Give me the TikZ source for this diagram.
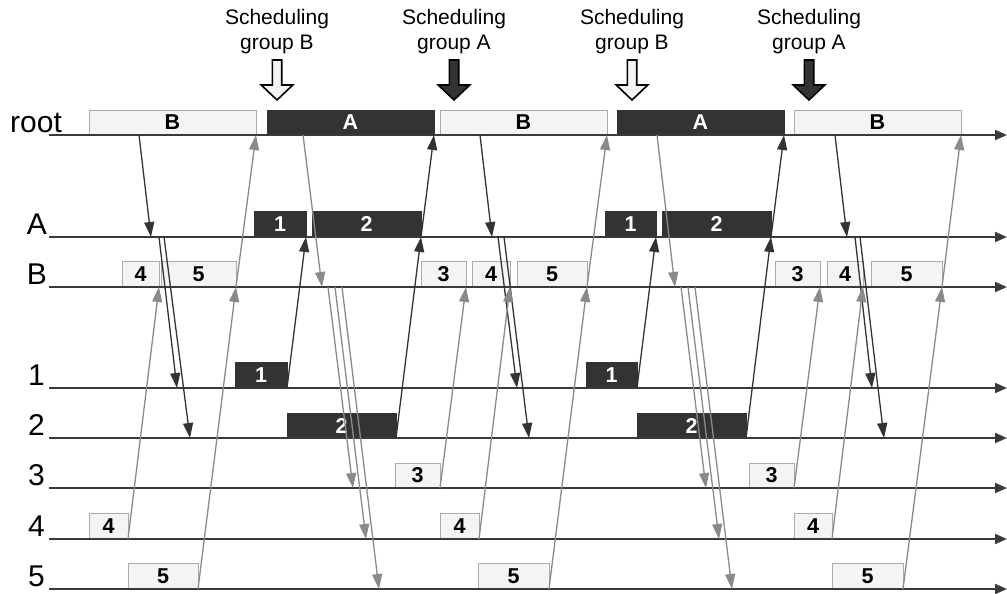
\documentclass[tikz,border=0pt]{standalone}
\usepackage{fontspec}
\setmainfont{Liberation Sans}
\usetikzlibrary{arrows.meta}
\definecolor{dk}{HTML}{333333}
\definecolor{lt}{HTML}{F4F4F4}
\definecolor{ltb}{HTML}{ABABAB}
\definecolor{gr}{HTML}{8A8A8A}
\definecolor{ln}{HTML}{3A3A3A}
\newcommand\mybox[7]{%
  \node[#1, minimum width={#4-#3}, minimum height={#6-#5}] (#2) at ({(#3+#4)/2},{(#5+#6)/2}) {#7};}
\newcommand\schedarrow[2]{%
  \draw[line width=1.6pt, fill=#2, line join=miter, draw=black]
    ({#1-4.7},60) -- ({#1+4.7},60) -- ({#1+4.7},85) -- ({#1+15.8},85) -- (#1,100)
    -- ({#1-15.8},85) -- ({#1-4.7},85) -- cycle;}
\begin{document}
\begin{tikzpicture}[x=1pt,y=-1pt,
  lbox/.style={draw=ltb, fill=lt, line width=1pt, inner sep=0pt, outer sep=0pt,
    text=black, font=\fontsize{21.5}{21.5}\selectfont\bfseries},
  dbox/.style={draw=dk, fill=dk, line width=1pt, inner sep=0pt, outer sep=0pt,
    text=white, font=\fontsize{21.5}{21.5}\selectfont\bfseries},
  tline/.style={draw=ln, line width=2pt, -{Triangle[length=12pt,width=10pt]}},
  lbl/.style={font=\fontsize{30}{30}\selectfont, inner sep=0pt, anchor=base east},
  sched/.style={font=\fontsize{21}{25}\selectfont, align=center, anchor=north, inner sep=0pt},
  gconn/.style={draw=gr, line width=1.3pt, -{Triangle[length=15pt,width=10pt]}},
  dconn/.style={draw=dk, line width=1.3pt, -{Triangle[length=15pt,width=10pt]}}
]
\useasboundingbox (0,0) rectangle (1007,594);

% scheduling annotations
\node[sched] (s1) at (277,8.7) {Scheduling\\group B};
\node[sched] (s2) at (454,8.7) {Scheduling\\group A};
\node[sched] (s3) at (632,8.7) {Scheduling\\group B};
\node[sched] (s4) at (809,8.7) {Scheduling\\group A};
\schedarrow{277}{lt}
\schedarrow{454}{dk}
\schedarrow{632}{lt}
\schedarrow{809}{dk}

% boxes: root
\mybox{lbox}{rB1}{89}{256}{110}{135}{B}
\mybox{dbox}{rA1}{267}{434}{110}{135}{A}
\mybox{lbox}{rB2}{440}{607}{110}{135}{B}
\mybox{dbox}{rA2}{617}{784}{110}{135}{A}
\mybox{lbox}{rB3}{794}{961}{110}{135}{B}
% A row
\mybox{dbox}{a11}{254}{306}{211}{237}{1}
\mybox{dbox}{a21}{312}{421}{211}{237}{2}
\mybox{dbox}{a12}{605}{656}{211}{237}{1}
\mybox{dbox}{a22}{662}{771}{211}{237}{2}
% B row
\mybox{lbox}{b41}{122}{159}{261}{287}{4}
\mybox{lbox}{b51}{161}{236}{261}{287}{5}
\mybox{lbox}{b32}{421}{466}{261}{287}{3}
\mybox{lbox}{b42}{472}{510}{261}{287}{4}
\mybox{lbox}{b52}{517}{587}{261}{287}{5}
\mybox{lbox}{b33}{775}{820}{261}{287}{3}
\mybox{lbox}{b43}{827}{863}{261}{287}{4}
\mybox{lbox}{b53}{871}{942}{261}{287}{5}
% rows 1..5
\mybox{dbox}{p11}{235}{287}{362}{388}{1}
\mybox{dbox}{p12}{586}{637}{362}{388}{1}
\mybox{dbox}{p21}{287}{396}{413}{438}{2}
\mybox{dbox}{p22}{637}{746}{413}{438}{2}
\mybox{lbox}{p31}{395}{440}{463}{488}{3}
\mybox{lbox}{p32}{749}{794}{463}{488}{3}
\mybox{lbox}{p41}{89}{128}{513}{539}{4}
\mybox{lbox}{p42}{440}{479}{513}{539}{4}
\mybox{lbox}{p43}{794}{832}{513}{539}{4}
\mybox{lbox}{p51}{128}{198}{563}{589}{5}
\mybox{lbox}{p52}{478}{549}{563}{589}{5}
\mybox{lbox}{p53}{832}{903}{563}{589}{5}

% timelines
\foreach \nm/\yy in {root/135, A/237, B/287, 1/388, 2/438, 3/488, 4/539, 5/589}{
  \coordinate (ls\nm) at (49,\yy);
  \coordinate (le\nm) at (1007,\yy);
  \draw[tline] (ls\nm) -- (le\nm);
}
\node[font=\fontsize{30}{30}\selectfont, inner sep=0pt, anchor=base west] (Lroot) at (10,132) {root};
\node[lbl] (LA) at (47,234) {A};
\node[lbl] (LB) at (47,284) {B};
\node[lbl] (L1) at (45,385) {1};
\node[lbl] (L2) at (45,435) {2};
\node[lbl] (L3) at (45,485) {3};
\node[lbl] (L4) at (45,536) {4};
\node[lbl] (L5) at (45,586) {5};

% free points on timelines
\coordinate (c1) at (139,135); \coordinate (c2) at (151,237);
\coordinate (c3) at (159,237); \coordinate (c4) at (177,388);
\coordinate (c5) at (164,237); \coordinate (c6) at (190,438);
\coordinate (c7) at (303,135); \coordinate (c8) at (322,287);
\coordinate (c9) at (328,287); \coordinate (c10) at (353,488);
\coordinate (c11) at (335,287); \coordinate (c12) at (366,539);
\coordinate (c13) at (342,287); \coordinate (c14) at (379,589);

\coordinate (d1) at (480,135); \coordinate (d2) at (492,237);
\coordinate (d3) at (498,237); \coordinate (d4) at (517,388);
\coordinate (d5) at (504,237); \coordinate (d6) at (529,438);
\coordinate (d7) at (657,135); \coordinate (d8) at (675,287);
\coordinate (d9) at (681,287); \coordinate (d10) at (706,488);
\coordinate (d11) at (688,287); \coordinate (d12) at (719,539);
\coordinate (d13) at (695,287); \coordinate (d14) at (732,589);

\coordinate (e1) at (835,135); \coordinate (e2) at (847,237);
\coordinate (e3) at (855,237); \coordinate (e4) at (872,388);
\coordinate (e5) at (860,237); \coordinate (e6) at (884,438);

% cycle 1
\draw[dconn] (c1) -- (c2);
\draw[dconn] (c3) -- (c4);
\draw[dconn] (c5) -- (c6);
\draw[gconn] (p41.south east) -- (b41.south east);
\draw[gconn] (p51.south east) -- (b51.south east);
\draw[gconn] (b51.south east) -- (rB1.south east);
\draw[gconn] (c7) -- (c8);
\draw[gconn] (c9) -- (c10);
\draw[gconn] (c11) -- (c12);
\draw[gconn] (c13) -- (c14);
\draw[dconn] (p11.south east) -- (a11.south east);
\draw[dconn] (p21.south east) -- (a21.south east);
\draw[dconn] (a21.south east) -- (rA1.south east);
% cycle 2
\draw[gconn] (p31.south east) -- (b32.south east);
\draw[dconn] (d1) -- (d2);
\draw[dconn] (d3) -- (d4);
\draw[dconn] (d5) -- (d6);
\draw[gconn] (p42.south east) -- (b42.south east);
\draw[gconn] (p52.south east) -- (b52.south east);
\draw[gconn] (b52.south east) -- (rB2.south east);
\draw[gconn] (d7) -- (d8);
\draw[gconn] (d9) -- (d10);
\draw[gconn] (d11) -- (d12);
\draw[gconn] (d13) -- (d14);
\draw[dconn] (p12.south east) -- (a12.south east);
\draw[dconn] (p22.south east) -- (a22.south east);
\draw[dconn] (a22.south east) -- (rA2.south east);
% cycle 3
\draw[gconn] (p32.south east) -- (b33.south east);
\draw[dconn] (e1) -- (e2);
\draw[dconn] (e3) -- (e4);
\draw[dconn] (e5) -- (e6);
\draw[gconn] (p43.south east) -- (b43.south east);
\draw[gconn] (p53.south east) -- (b53.south east);
\draw[gconn] (b53.south east) -- (rB3.south east);
\end{tikzpicture}
\end{document}
